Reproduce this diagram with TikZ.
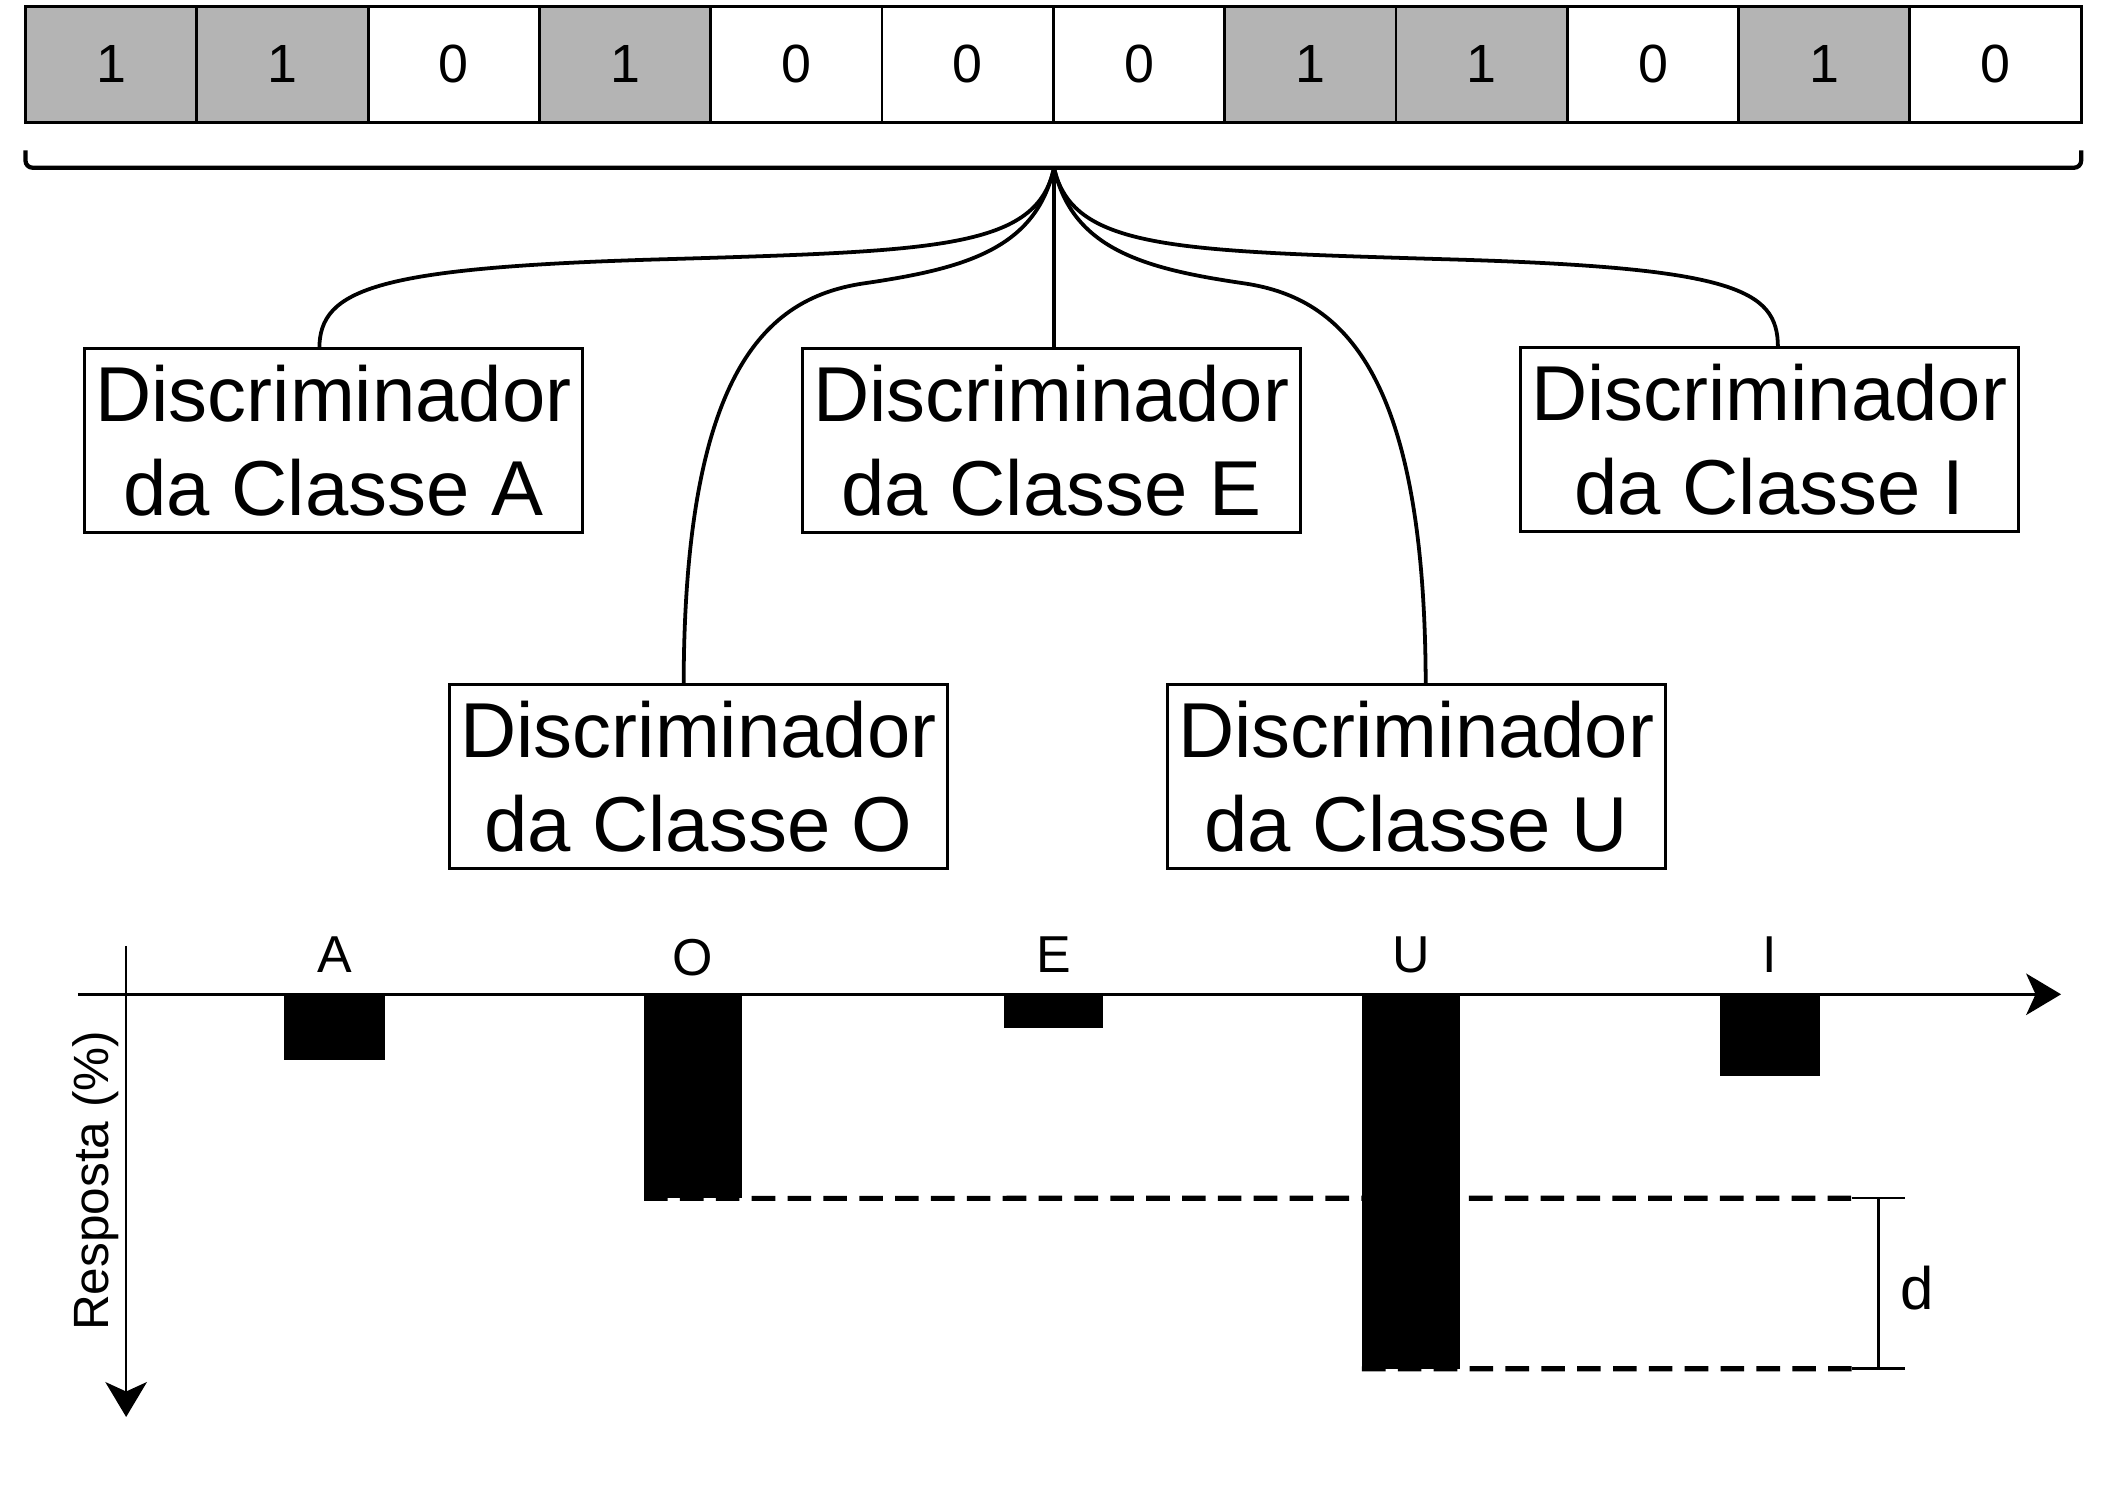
\documentclass[tikz,border=0pt]{standalone}
\usepackage{fontspec}
\setmainfont{Liberation Sans}
\usetikzlibrary{arrows.meta,calc}
\definecolor{bitgray}{RGB}{180,180,180}
\begin{document}
\begin{tikzpicture}[x=0.01cm,y=-0.01cm,
  bitcell/.style={draw, line width=0.6pt, minimum width=1.2767cm, minimum height=0.86cm,
    inner sep=0, outer sep=0, anchor=north west, font=\fontsize{11.4}{13}\selectfont},
  bit1/.style={bitcell, fill=bitgray},
  bit0/.style={bitcell, fill=white},
  disc/.style={draw, line width=0.6pt, minimum width=3.71cm, minimum height=1.37cm,
    inner sep=0, outer sep=0, align=center, font=\fontsize{16.5}{19.9}\selectfont},
  link/.style={line width=0.8pt},
  bar/.style={fill=black, inner sep=0, outer sep=0, anchor=north west},
  axis/.style={line width=0.55pt, -{Stealth[length=7.4pt,width=8.8pt,inset=2pt]}},
  lbl/.style={font=\fontsize{11}{13}\selectfont, anchor=base, inner sep=0},
  dimdash/.style={line width=1.1pt, dash pattern=on 5pt off 2.6pt},
  dimline/.style={line width=0.5pt}
]
\useasboundingbox (0,0) rectangle (1568,1115);

% bit string
\foreach \b [count=\i from 0] in {1,1,0,1,0,0,0,1,1,0,1,0}
  \node[bit\b] (c\i) at ({19+127.667*\i},5) {\b};

% brace
\coordinate (tip) at (785.5,125);
\draw[line width=0.9pt, rounded corners=1.5pt] (c0.south west) ++(0,21) -- (19,125) -- (1551,125) -- (1551,112);

% discriminators
\node[disc] (dA) at (248.5,328.5) {Discriminador\\da Classe A};
\node[disc] (dE) at (783.5,328.5) {Discriminador\\da Classe E};
\node[disc] (dI) at (1318.5,327.5) {Discriminador\\da Classe I};
\node[disc] (dO) at (520.5,578.5) {Discriminador\\da Classe O};
\node[disc] (dU) at (1055.5,578.5) {Discriminador\\da Classe U};

% connectors
\draw[link] (tip) .. controls (773,185) and (700,187) .. (502,193)
  .. controls (280,199) and (238,215) .. ([xshift=-0.105cm]dA.north);
\draw[link] (tip) .. controls (772,185) and (720,200) .. (645,211)
  .. controls (575,221) and (510,270) .. ([xshift=-0.11cm]dO.north);
\draw[link] (tip) -- (tip |- dE.north);
\draw[link] (tip) .. controls (799,185) and (851,200) .. (926,211)
  .. controls (996,221) and (1062,270) .. ([xshift=0.07cm]dU.north);
\draw[link] (tip) .. controls (799,185) and (872,187) .. (1070,193)
  .. controls (1292,199) and (1325,215) .. ([xshift=0.065cm]dI.north);

% chart axes
\coordinate (xs) at (58,741);
\coordinate (xe) at (1536,741);
\coordinate (ys) at (94,705);
\coordinate (ye) at (94,1056);
\draw[axis] (xs) -- (xe);
\draw[axis] (ys) -- (ye);
\node[rotate=90, font=\fontsize{10.5}{12}\selectfont, inner sep=0] (ylab) at (71,880) {Resposta (\%)};

% bars
\node[bar, minimum width=0.75cm, minimum height=0.49cm] (bA) at (212,741) {};
\node[bar, minimum width=0.73cm, minimum height=1.52cm] (bO) at (480,741) {};
\node[bar, minimum width=0.74cm, minimum height=0.25cm] (bE) at (748,741) {};
\node[bar, minimum width=0.73cm, minimum height=2.79cm] (bU) at (1015,741) {};
\node[bar, minimum width=0.74cm, minimum height=0.61cm] (bI) at (1282,741) {};

% labels
\node[lbl] (lA) at (249.5,725) {A};
\node[lbl] (lO) at (516.5,727) {O};
\node[lbl] (lE) at (785,725) {E};
\node[lbl] (lU) at (1051.5,725) {U};
\node[lbl] (lI) at (1319,725) {I};

% difference marker
\coordinate (dtop) at (1380,893);
\coordinate (dbot) at (1380,1020);
\draw[dimdash] (bO.south west) -- (dtop);
\draw[dimdash] (bU.south west) -- (dbot);
\draw[dimline] (dtop) -- ++(40,0);
\draw[dimline] (dbot) -- ++(40,0);
\draw[dimline] ($(dtop)+(20,0)$) -- ($(dbot)+(20,0)$);
\node[font=\fontsize{12.7}{14}\selectfont, inner sep=0] (dl) at (1429,960) {d};
\end{tikzpicture}
\end{document}
